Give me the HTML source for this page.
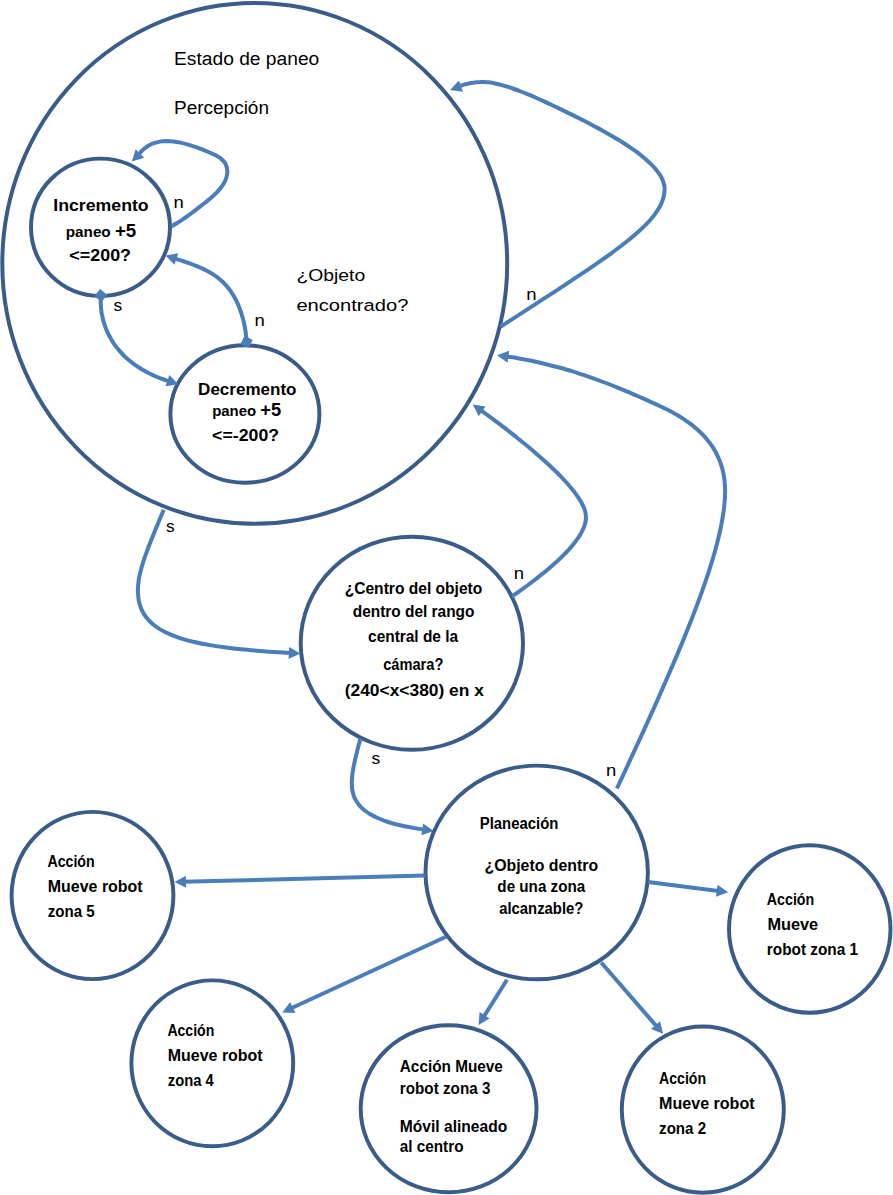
<!DOCTYPE html>
<html lang="es">
<head>
<meta charset="utf-8">
<title>Diagrama de estados</title>
<style>
html,body{margin:0;padding:0;background:#fff;}
svg{display:block;width:893px;height:1195px;}
text{font-family:"Liberation Sans",sans-serif;fill:#000;}
</style>
</head>
<body>
<svg xmlns="http://www.w3.org/2000/svg" width="893" height="1195" viewBox="0 0 893 1195">
<rect width="893" height="1195" fill="#fff"/>
<g fill="none" stroke="#385D8A" stroke-width="3.95">
<ellipse cx="254.75" cy="263.4" rx="252.45" ry="260.4"/>
<ellipse cx="100.5" cy="227.3" rx="69.5" ry="68.7"/>
<ellipse cx="244.9" cy="414.0" rx="74.5" ry="68.7"/>
<ellipse cx="411.85" cy="643.2" rx="111.15" ry="106.5"/>
<ellipse cx="536.7" cy="872.45" rx="111.2" ry="106.85"/>
<ellipse cx="92.5" cy="895.5" rx="80.9" ry="83.65"/>
<ellipse cx="212.3" cy="1063.35" rx="80.9" ry="82.95"/>
<ellipse cx="448.6" cy="1108.8" rx="87.9" ry="83.5"/>
<ellipse cx="702.8" cy="1109.55" rx="81.0" ry="83.15"/>
<ellipse cx="809.75" cy="929" rx="80.75" ry="83.7"/>
</g>
<g fill="none" stroke="#4A7EBB" stroke-width="4.0" stroke-linecap="butt" stroke-linejoin="round">
<path d="M171.1,226.5 C172.2,225.9 175.5,224 177.5,222.7 C179.6,221.5 181.5,220.3 183.3,219 C185.2,217.8 187,216.5 188.8,215.2 C190.6,213.9 192.3,212.7 194,211.3 C195.8,210 197.6,208.6 199.4,207.2 C201.2,205.8 203.1,204.3 205,202.8 C206.9,201.2 208.9,199.6 210.8,198 C212.7,196.3 214.6,194.6 216.4,192.8 C218.1,191 219.8,189.2 221.2,187.3 C222.7,185.4 224,183.4 224.9,181.4 C225.9,179.3 226.6,177.1 227,175 C227.4,172.9 227.4,170.7 227.1,168.7 C226.8,166.7 226.1,164.7 225.1,163 C224.1,161.4 222.6,159.9 220.9,158.6 C219.3,157.2 217.2,156.1 215.2,155 C213.1,153.9 210.7,153 208.5,152 C206.2,151.1 203.8,150.1 201.5,149.2 C199.1,148.3 196.8,147.4 194.4,146.6 C192,145.8 189.7,145 187.3,144.4 C185,143.7 182.6,143.1 180.3,142.6 C178,142.1 175.7,141.7 173.4,141.4 C171.1,141.2 168.8,141 166.6,141 C164.4,141.1 162.2,141.2 160.1,141.6 C158,142 155.9,142.5 153.9,143.2 C151.8,143.9 149.9,144.9 148,146 C146.1,147.2 144.3,148.6 142.5,150.2 C140.8,151.9 138.3,155 137.5,155.9"/>
<path d="M246.6,341.9 C246.5,341.1 246.4,338.8 246.2,337.3 C246.1,335.8 245.9,334.2 245.7,332.7 C245.5,331.2 245.3,329.7 245,328.2 C244.7,326.6 244.4,325.1 244.1,323.6 C243.8,322.2 243.5,320.7 243.1,319.2 C242.7,317.7 242.3,316.3 241.8,314.8 C241.4,313.4 240.9,311.9 240.4,310.5 C239.9,309.1 239.4,307.7 238.8,306.3 C238.3,305 237.7,303.6 237,302.3 C236.4,300.9 235.7,299.6 235,298.3 C234.3,297 233.6,295.8 232.8,294.5 C232,293.3 231.2,292.1 230.4,290.9 C229.5,289.7 228.7,288.6 227.7,287.4 C226.8,286.3 225.9,285.2 224.9,284.2 C223.9,283.1 222.9,282.1 221.8,281.1 C220.7,280.1 219.6,279.1 218.5,278.2 C217.4,277.3 216.2,276.4 215,275.6 C213.7,274.7 212.5,273.9 211.2,273.2 C209.9,272.4 208.6,271.7 207.3,271 C205.9,270.3 204.6,269.6 203.2,268.9 C201.8,268.3 200.4,267.7 199,267.1 C197.6,266.5 196.1,265.9 194.7,265.3 C193.3,264.8 191.8,264.2 190.4,263.7 C188.9,263.2 187.4,262.7 186,262.2 C184.5,261.7 183.1,261.2 181.7,260.7 C180.2,260.2 178.8,259.8 177.4,259.3 C175.9,258.9 173.8,258.2 173.1,257.9"/>
<path d="M100.8,295.5 C100.8,296.3 100.7,298.7 100.7,300.2 C100.6,301.8 100.7,303.4 100.8,304.9 C100.9,306.4 101,308 101.2,309.5 C101.3,311 101.6,312.5 101.8,313.9 C102.1,315.4 102.4,316.9 102.7,318.3 C103.1,319.8 103.4,321.2 103.9,322.6 C104.3,324 104.8,325.4 105.3,326.8 C105.8,328.2 106.3,329.5 106.9,330.8 C107.4,332.2 108.1,333.5 108.7,334.8 C109.4,336.1 110.1,337.4 110.8,338.6 C111.5,339.9 112.3,341.1 113,342.3 C113.8,343.5 114.7,344.7 115.5,345.9 C116.4,347.1 117.3,348.2 118.2,349.3 C119.1,350.4 120.1,351.5 121.1,352.6 C122,353.7 123.1,354.7 124.1,355.8 C125.1,356.8 126.2,357.8 127.3,358.8 C128.4,359.7 129.5,360.7 130.7,361.6 C131.9,362.5 133,363.4 134.2,364.3 C135.4,365.2 136.7,366 137.9,366.8 C139.2,367.6 140.4,368.4 141.7,369.2 C143,370 144.3,370.7 145.6,371.5 C146.9,372.2 148.3,372.9 149.6,373.5 C151,374.2 152.3,374.9 153.7,375.5 C155.1,376.1 156.5,376.7 157.9,377.3 C159.3,377.8 160.7,378.4 162.1,378.9 C163.5,379.4 164.9,379.9 166.4,380.4 C167.8,380.8 170,381.5 170.7,381.7"/>
<path d="M500.5,326.8 C504.3,324.3 515.9,316.8 523.2,312.1 C530.5,307.3 537.5,302.8 544.2,298.4 C550.9,294.1 557.4,289.9 563.5,285.8 C569.7,281.8 575.6,277.9 581.1,274.2 C586.7,270.4 592,266.8 597,263.3 C602.1,259.8 606.8,256.5 611.3,253.3 C615.7,250 619.9,246.9 623.8,243.8 C627.7,240.8 631.3,237.9 634.6,235 C638,232.1 641,229.4 643.8,226.6 C646.6,223.9 649.1,221.3 651.3,218.7 C653.5,216.1 655.5,213.5 657.1,211 C658.8,208.5 660.2,206 661.3,203.6 C662.4,201.1 663.2,198.7 663.8,196.3 C664.3,193.8 664.5,191 664.6,189 C664.7,187 664.4,186 664.1,184.5 C663.7,182.9 663.2,181.4 662.6,179.9 C661.9,178.3 661.1,176.7 660.1,175.2 C659.1,173.6 658,172 656.7,170.5 C655.5,168.9 654.1,167.3 652.5,165.7 C651,164.1 649.4,162.5 647.6,160.9 C645.8,159.3 643.9,157.7 641.9,156.1 C639.9,154.5 637.8,152.8 635.6,151.2 C633.4,149.6 631,148 628.6,146.4 C626.2,144.7 623.7,143.1 621.2,141.5 C618.6,139.9 615.9,138.3 613.2,136.7 C610.4,135.1 607.6,133.5 604.8,131.9 C601.9,130.2 599,128.6 596,127.1 C593,125.5 589.9,123.8 586.9,122.3 C583.9,120.8 580.9,119.3 578,117.8 C575,116.3 572,114.8 569.1,113.4 C566.2,111.9 563.3,110.5 560.4,109.1 C557.5,107.7 554.6,106.3 551.8,105 C549,103.7 546.2,102.4 543.5,101.1 C540.7,99.9 538,98.7 535.3,97.5 C532.7,96.3 530.1,95.2 527.5,94.2 C524.9,93.1 522.4,92.1 519.9,91.2 C517.5,90.2 515.1,89.3 512.7,88.5 C510.4,87.7 508.1,86.9 505.9,86.3 C503.7,85.6 501.5,85 499.5,84.5 C497.4,83.9 495.4,83.5 493.5,83.1 C491.6,82.8 489.7,82.5 488,82.3 C486.2,82.1 484.3,82 483,82 C481.7,82 481.2,82 480.3,82.1 C479.4,82.1 478.5,82.1 477.6,82.2 C476.7,82.3 475.9,82.4 475,82.5 C474.2,82.6 473.3,82.7 472.5,82.8 C471.7,82.9 470.9,83.1 470.1,83.2 C469.3,83.4 468.5,83.6 467.7,83.7 C466.9,83.9 466.2,84.1 465.4,84.3 C464.6,84.5 463.9,84.7 463.1,85 C462.4,85.2 461.8,85.3 460.9,85.7 C460,86.1 458.2,87 457.7,87.2"/>
<path d="M511.9,596.5 C513.3,595.5 517.3,592.7 520,590.8 C522.7,588.8 525.4,586.9 528,585 C530.6,583 533.2,581 535.8,579.1 C538.3,577.1 540.8,575.1 543.3,573.2 C545.7,571.2 548.1,569.2 550.4,567.2 C552.7,565.3 554.9,563.3 557.1,561.3 C559.2,559.4 561.3,557.4 563.2,555.4 C565.2,553.5 567.1,551.5 568.8,549.6 C570.6,547.7 572.2,545.7 573.8,543.8 C575.3,541.9 576.7,540 578,538.2 C579.2,536.3 580.4,534.5 581.4,532.6 C582.4,530.8 583.2,529 583.9,527.3 C584.6,525.5 585.1,523.7 585.5,522 C585.8,520.3 586.1,518.9 586,517 C585.9,515.1 585.7,513 585,510.8 C584.4,508.7 583.4,506.4 582.2,504 C581,501.7 579.5,499.2 577.7,496.6 C576,494.1 574,491.4 571.8,488.8 C569.6,486.1 567.2,483.3 564.6,480.5 C562,477.7 559.2,474.8 556.3,471.9 C553.4,469.1 550.3,466.1 547.1,463.2 C543.9,460.3 540.6,457.3 537.2,454.4 C533.8,451.4 530.3,448.4 526.7,445.5 C523.2,442.6 519.5,439.7 515.9,436.8 C512.2,433.9 508.6,431 504.9,428.2 C501.2,425.4 497.6,422.6 493.9,419.9 C490.3,417.2 485.6,413.8 483.2,412 C480.7,410.3 480,409.7 479.3,409.3"/>
<path d="M616.9,788.5 C619.1,783.7 625.9,769.3 630.2,759.9 C634.5,750.5 638.8,741.3 642.9,732.3 C647,723.3 651,714.5 654.9,705.8 C658.7,697.2 662.5,688.7 666.1,680.4 C669.7,672.1 673.2,664 676.6,656.1 C679.9,648.2 683.1,640.5 686.1,632.9 C689.2,625.4 692.1,618.1 694.8,610.9 C697.5,603.8 700.1,596.8 702.5,590.1 C704.9,583.3 707.1,576.8 709.2,570.4 C711.2,564.1 713.1,557.9 714.8,552 C716.4,546.1 717.9,540.3 719.2,534.8 C720.5,529.3 721.6,524 722.4,518.9 C723.3,513.8 724,509 724.4,504.3 C724.9,499.7 725.1,494.6 725.1,491 C725.1,487.4 725,485.2 724.7,482.5 C724.5,479.7 724.1,477 723.6,474.4 C723.1,471.7 722.5,469.2 721.7,466.7 C721,464.2 720.2,461.8 719.2,459.5 C718.2,457.2 717.2,454.9 716,452.7 C714.8,450.5 713.5,448.3 712.1,446.2 C710.7,444.2 709.2,442.1 707.6,440.2 C706,438.2 704.3,436.3 702.5,434.4 C700.7,432.6 698.8,430.8 696.8,429 C694.8,427.3 692.7,425.6 690.5,423.9 C688.3,422.3 686.1,420.7 683.7,419.1 C681.4,417.6 678.9,416 676.4,414.6 C673.9,413.1 671.3,411.7 668.6,410.3 C665.9,408.9 663.5,407.7 660.3,406.2 C657.1,404.7 653.1,402.9 649.5,401.3 C645.9,399.7 642.3,398.1 638.7,396.5 C635.1,394.9 631.5,393.3 627.9,391.8 C624.2,390.3 620.6,388.8 616.9,387.3 C613.3,385.8 609.6,384.4 605.9,383 C602.2,381.6 598.5,380.2 594.7,378.8 C591,377.5 587.2,376.2 583.4,374.9 C579.6,373.7 575.8,372.4 571.9,371.2 C568,370.1 564.1,368.9 560.1,367.8 C556.2,366.7 552.2,365.7 548.1,364.7 C544.1,363.7 540,362.7 535.8,361.8 C531.7,360.9 527.5,360.1 523.2,359.3 C519,358.5 513.4,357.5 510.3,357.1 C507.3,356.6 505.9,356.4 505,356.3"/>
<path d="M163.7,509.7 C163.2,511 161.5,515.1 160.4,517.7 C159.4,520.2 158.3,522.7 157.3,525.2 C156.3,527.6 155.4,529.9 154.4,532.2 C153.5,534.5 152.6,536.7 151.7,538.9 C150.9,541.1 150,543.2 149.2,545.2 C148.4,547.2 147.7,549.2 147,551.2 C146.2,553.1 145.6,555 144.9,556.8 C144.3,558.7 143.7,560.5 143.1,562.2 C142.6,564 142,565.7 141.6,567.4 C141.1,569.1 140.7,570.8 140.3,572.4 C139.9,574 139.5,575.6 139.2,577.2 C139,578.8 138.7,580.3 138.5,581.9 C138.3,583.4 138.2,585 138.1,586.5 C138,588 137.8,588.6 137.9,591 C138,593.4 138.2,597.8 138.8,600.9 C139.5,604 140.4,606.9 141.6,609.6 C142.9,612.3 144.4,614.9 146.2,617.2 C148,619.6 150.2,621.8 152.6,623.9 C154.9,625.9 157.6,627.8 160.6,629.6 C163.5,631.3 166.8,632.9 170.2,634.4 C173.7,635.9 177.5,637.3 181.5,638.6 C185.5,639.8 189.8,641 194.3,642 C198.8,643.1 203.5,644 208.5,644.9 C213.5,645.8 218.8,646.6 224.2,647.3 C229.7,648 235.4,648.7 241.3,649.3 C247.2,649.9 253.4,650.4 259.7,650.9 C266.1,651.5 274,652 279.4,652.3 C284.8,652.7 290.1,653 292.3,653.1"/>
<path d="M360.4,738.5 C360.2,739.1 359.8,741 359.5,742.2 C359.2,743.4 358.8,744.6 358.5,745.8 C358.2,747 357.9,748.1 357.6,749.3 C357.3,750.5 357.1,751.6 356.8,752.7 C356.5,753.9 356.2,755 355.9,756.1 C355.7,757.2 355.4,758.3 355.2,759.3 C354.9,760.4 354.7,761.5 354.5,762.6 C354.2,763.6 354,764.7 353.8,765.7 C353.6,766.8 353.4,767.8 353.2,768.8 C353,769.9 352.9,770.9 352.7,771.9 C352.6,772.9 352.5,774 352.3,775 C352.2,776 352.1,777 352,778 C352,779 351.9,780 351.9,781 C351.8,782 351.7,782.4 351.8,784 C351.9,785.6 352,788.6 352.4,790.7 C352.8,792.8 353.4,794.8 354.1,796.7 C354.9,798.6 355.9,800.4 357,802.1 C358.1,803.7 359.3,805.3 360.7,806.8 C362.2,808.3 363.7,809.7 365.4,811 C367.1,812.3 369,813.5 370.9,814.6 C372.9,815.8 374.9,816.8 377.1,817.8 C379.3,818.8 381.6,819.7 384,820.6 C386.3,821.4 388.8,822.2 391.4,823 C393.9,823.7 396.5,824.4 399.2,825 C401.9,825.7 404.7,826.3 407.5,826.8 C410.3,827.4 413,827.9 416,828.4 C419.1,828.9 424.1,829.6 425.7,829.8"/>
<path d="M425.5,875.6 L182.5,881.8"/>
<path d="M446,936.8 L289.6,1009"/>
<path d="M507,979.8 L482.8,1018.2"/>
<path d="M601.2,962.5 L657.8,1027.7"/>
<path d="M648.2,882.1 L720.2,891.2"/>
</g>
<g fill="#4A7EBB">
<polygon points="131.8,161.6 135.7,149.2 144.2,157.7"/>
<polygon points="165.5,255.4 178.3,253.3 174.5,264.7"/>
<polygon points="244.6,335.8 252.7,339.9 248.6,348 240.5,343.9"/>
<polygon points="178.3,384.3 165.5,386.3 169.4,374.9"/>
<polygon points="101.6,301.9 94.4,296.3 100,289.1 107.2,294.7"/>
<polygon points="450.1,90 458.9,80.4 463,91.7"/>
<polygon points="472.8,404.6 485.6,406.4 478.7,416.2"/>
<polygon points="497,355.2 509.2,350.8 507.6,362.7"/>
<polygon points="300.3,653.6 288.5,658.9 289.2,646.9"/>
<polygon points="433.7,831 421.4,835.3 423.2,823.4"/>
<polygon points="174.5,882 185.8,875.7 186.1,887.7"/>
<polygon points="282.3,1012.4 290.2,1002.1 295.3,1013"/>
<polygon points="478.5,1025 479.6,1012.1 489.7,1018.5"/>
<polygon points="663.1,1033.8 651,1029 660.1,1021.2"/>
<polygon points="728.2,892.2 716,896.7 717.5,884.8"/>
</g>
<text x="174" y="65" font-size="17.6" font-weight="400" text-anchor="start" xml:space="preserve" textLength="145.3" lengthAdjust="spacingAndGlyphs">Estado de paneo</text>
<text x="174" y="114.2" font-size="17.6" font-weight="400" text-anchor="start" xml:space="preserve" textLength="95" lengthAdjust="spacingAndGlyphs">Percepción</text>
<text x="296.4" y="280.8" font-size="17.4" font-weight="400" text-anchor="start" xml:space="preserve" textLength="68.8" lengthAdjust="spacingAndGlyphs">¿Objeto</text>
<text x="296.4" y="310.6" font-size="17.4" font-weight="400" text-anchor="start" xml:space="preserve" textLength="112" lengthAdjust="spacingAndGlyphs">encontrado?</text>
<text x="101" y="210.8" font-size="17.4" font-weight="700" text-anchor="middle" xml:space="preserve" textLength="95.4" lengthAdjust="spacingAndGlyphs">Incremento</text>
<text x="101" y="236.8" font-size="17.4" font-weight="700" text-anchor="middle" xml:space="preserve" textLength="70.5" lengthAdjust="spacingAndGlyphs"><tspan font-size="15.2">paneo </tspan><tspan font-size="18.6">+5</tspan></text>
<text x="100.2" y="261.2" font-size="17.4" font-weight="700" text-anchor="middle" xml:space="preserve" textLength="61.7" lengthAdjust="spacingAndGlyphs">&lt;=200?</text>
<text x="247.3" y="394.6" font-size="17.4" font-weight="700" text-anchor="middle" xml:space="preserve" textLength="98.4" lengthAdjust="spacingAndGlyphs">Decremento</text>
<text x="246.7" y="416.4" font-size="17.4" font-weight="700" text-anchor="middle" xml:space="preserve" textLength="69" lengthAdjust="spacingAndGlyphs"><tspan font-size="15.2">paneo </tspan><tspan font-size="18.6">+5</tspan></text>
<text x="245.6" y="441" font-size="17.4" font-weight="700" text-anchor="middle" xml:space="preserve" textLength="67" lengthAdjust="spacingAndGlyphs">&lt;=-200?</text>
<text x="413.5" y="593.5" font-size="15.8" font-weight="700" text-anchor="middle" xml:space="preserve" textLength="137.6" lengthAdjust="spacingAndGlyphs">¿Centro del objeto</text>
<text x="413.6" y="616.9" font-size="15.8" font-weight="700" text-anchor="middle" xml:space="preserve" textLength="121.7" lengthAdjust="spacingAndGlyphs">dentro del rango</text>
<text x="413.1" y="641.9" font-size="15.8" font-weight="700" text-anchor="middle" xml:space="preserve" textLength="90" lengthAdjust="spacingAndGlyphs">central de la</text>
<text x="413.3" y="669.6" font-size="15.8" font-weight="700" text-anchor="middle" xml:space="preserve" textLength="60.2" lengthAdjust="spacingAndGlyphs">cámara?</text>
<text x="414.3" y="696.2" font-size="16.6" font-weight="700" text-anchor="middle" xml:space="preserve" textLength="139.2" lengthAdjust="spacingAndGlyphs">(240&lt;x&lt;380) en x</text>
<text x="479.7" y="829.3" font-size="15.8" font-weight="700" text-anchor="start" xml:space="preserve" textLength="78.7" lengthAdjust="spacingAndGlyphs">Planeación</text>
<text x="541.3" y="870.9" font-size="15.8" font-weight="700" text-anchor="middle" xml:space="preserve" textLength="113.7" lengthAdjust="spacingAndGlyphs">¿Objeto dentro</text>
<text x="541.3" y="892.4" font-size="15.8" font-weight="700" text-anchor="middle" xml:space="preserve" textLength="87.9" lengthAdjust="spacingAndGlyphs">de una zona</text>
<text x="541.3" y="913.9" font-size="15.8" font-weight="700" text-anchor="middle" xml:space="preserve" textLength="84.1" lengthAdjust="spacingAndGlyphs">alcanzable?</text>
<text x="47.4" y="867" font-size="15.8" font-weight="700" text-anchor="start" xml:space="preserve" textLength="47.3" lengthAdjust="spacingAndGlyphs">Acción</text>
<text x="47.8" y="892.2" font-size="15.8" font-weight="700" text-anchor="start" xml:space="preserve" textLength="94.9" lengthAdjust="spacingAndGlyphs">Mueve robot</text>
<text x="47.8" y="917.4" font-size="15.8" font-weight="700" text-anchor="start" xml:space="preserve" textLength="46.9" lengthAdjust="spacingAndGlyphs">zona 5</text>
<text x="167.4" y="1036" font-size="15.8" font-weight="700" text-anchor="start" xml:space="preserve" textLength="46.9" lengthAdjust="spacingAndGlyphs">Acción</text>
<text x="167.8" y="1061.2" font-size="15.8" font-weight="700" text-anchor="start" xml:space="preserve" textLength="94.9" lengthAdjust="spacingAndGlyphs">Mueve robot</text>
<text x="167.8" y="1086.4" font-size="15.8" font-weight="700" text-anchor="start" xml:space="preserve" textLength="45.9" lengthAdjust="spacingAndGlyphs">zona 4</text>
<text x="399.8" y="1071.6" font-size="15.8" font-weight="700" text-anchor="start" xml:space="preserve" textLength="103.1" lengthAdjust="spacingAndGlyphs">Acción Mueve</text>
<text x="399.8" y="1093.5" font-size="15.8" font-weight="700" text-anchor="start" xml:space="preserve" textLength="90.6" lengthAdjust="spacingAndGlyphs">robot zona 3</text>
<text x="399.8" y="1131.5" font-size="15.8" font-weight="700" text-anchor="start" xml:space="preserve" textLength="107.4" lengthAdjust="spacingAndGlyphs">Móvil alineado</text>
<text x="399.8" y="1151.8" font-size="15.8" font-weight="700" text-anchor="start" xml:space="preserve" textLength="63.7" lengthAdjust="spacingAndGlyphs">al centro</text>
<text x="659.1" y="1084.1" font-size="15.8" font-weight="700" text-anchor="start" xml:space="preserve" textLength="47" lengthAdjust="spacingAndGlyphs">Acción</text>
<text x="659.1" y="1109.2" font-size="15.8" font-weight="700" text-anchor="start" xml:space="preserve" textLength="95.5" lengthAdjust="spacingAndGlyphs">Mueve robot</text>
<text x="659.1" y="1134.3" font-size="15.8" font-weight="700" text-anchor="start" xml:space="preserve" textLength="47" lengthAdjust="spacingAndGlyphs">zona 2</text>
<text x="766.8" y="905" font-size="15.8" font-weight="700" text-anchor="start" xml:space="preserve" textLength="47.4" lengthAdjust="spacingAndGlyphs">Acción</text>
<text x="767.4" y="930.2" font-size="15.8" font-weight="700" text-anchor="start" xml:space="preserve" textLength="50.8" lengthAdjust="spacingAndGlyphs">Mueve</text>
<text x="766.8" y="955" font-size="15.8" font-weight="700" text-anchor="start" xml:space="preserve" textLength="91.3" lengthAdjust="spacingAndGlyphs">robot zona 1</text>
<text x="173.4" y="208.4" font-size="16.5" font-weight="400" text-anchor="start" xml:space="preserve" textLength="10.3" lengthAdjust="spacingAndGlyphs">n</text>
<text x="113.6" y="310.7" font-size="16.5" font-weight="400" text-anchor="start" xml:space="preserve" textLength="8.7" lengthAdjust="spacingAndGlyphs">s</text>
<text x="254.5" y="326.2" font-size="16.5" font-weight="400" text-anchor="start" xml:space="preserve" textLength="10.3" lengthAdjust="spacingAndGlyphs">n</text>
<text x="526.3" y="300" font-size="16.5" font-weight="400" text-anchor="start" xml:space="preserve" textLength="10.3" lengthAdjust="spacingAndGlyphs">n</text>
<text x="165.9" y="531.6" font-size="16.5" font-weight="400" text-anchor="start" xml:space="preserve" textLength="8.7" lengthAdjust="spacingAndGlyphs">s</text>
<text x="513.7" y="579.1" font-size="16.5" font-weight="400" text-anchor="start" xml:space="preserve" textLength="10.3" lengthAdjust="spacingAndGlyphs">n</text>
<text x="371.6" y="763.7" font-size="16.5" font-weight="400" text-anchor="start" xml:space="preserve" textLength="8.7" lengthAdjust="spacingAndGlyphs">s</text>
<text x="606.1" y="776.3" font-size="16.5" font-weight="400" text-anchor="start" xml:space="preserve" textLength="10.3" lengthAdjust="spacingAndGlyphs">n</text>
</svg>
</body>
</html>
